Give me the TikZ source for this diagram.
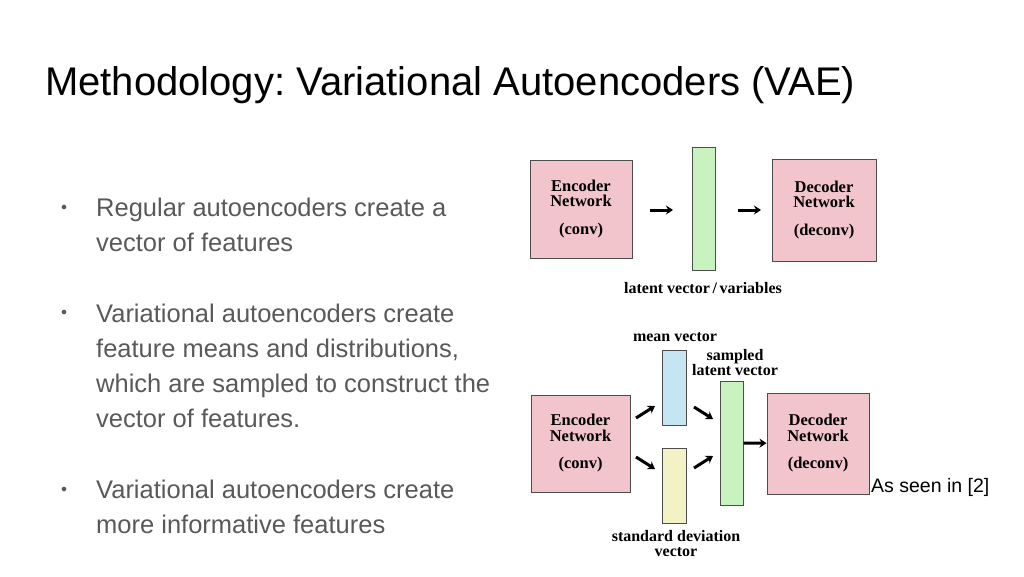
\documentclass[tikz,border=0pt]{standalone}
\usepackage{fontspec}
\setmainfont{Liberation Sans}
\newfontfamily\figfont{Liberation Serif}
\usetikzlibrary{arrows.meta}
\definecolor{netpink}{HTML}{F2C4CB}
\definecolor{latgreen}{HTML}{C8F2BE}
\definecolor{meanblue}{HTML}{C4E6F2}
\definecolor{sdyellow}{HTML}{F2F2C4}
\definecolor{bullgrey}{HTML}{595959}
\tikzset{
  net/.style={draw=black!70, fill=netpink, line width=1pt, inner sep=0pt, align=center, font=\figfont\bfseries\fontsize{16.5}{15.5}\selectfont},
  bar/.style={draw=black!70, line width=1pt, inner sep=0pt},
  figcap/.style={inner sep=0pt, align=center, font=\figfont\bfseries\fontsize{16}{15}\selectfont},
  flow/.style={-{Stealth[length=7pt,width=9pt]}, line width=3pt},
  bullet/.style={anchor=west, inner sep=0pt, text=bullgrey, font=\fontsize{25.5}{35}\selectfont, align=left},
  dot/.style={text=bullgrey, inner sep=0pt, font=\fontsize{13}{13}\selectfont}
}
\begin{document}
\frenchspacing
\begin{tikzpicture}[x=1pt, y=-1pt]
  \useasboundingbox (0,0) rectangle (1024,576);
  % title
  \node (title) [anchor=west, inner sep=0pt, font=\fontsize{40}{44}\selectfont] at (45,85) {Methodology: Variational Autoencoders (VAE)};

  % bullet points
  \node (d1) [dot] at (64,208) {$\bullet$};
  \node (t1) [bullet] at (96,225) {Regular autoencoders create a\\vector of features};
  \node (d2) [dot] at (64,313) {$\bullet$};
  \node (t2) [bullet] at (96,366) {Variational autoencoders create\\feature means and distributions,\\which are sampled to construct the\\vector of features.};
  \node (d3) [dot] at (64,490) {$\bullet$};
  \node (t3) [bullet] at (96,507) {Variational autoencoders create\\more informative features};

  % plain autoencoder
  \node (enc) [net, minimum width=102pt, minimum height=98pt] at (581,209) {Encoder\\Network\\[12pt](conv)};
  \node (lat) [bar, fill=latgreen, minimum width=23pt, minimum height=123pt] at (703.5,208.5) {};
  \node (dec) [net, minimum width=104pt, minimum height=102pt] at (824,210) {Decoder\\Network\\[12pt](deconv)};
  \node (latcap) [figcap] at (703,288) {latent vector\,/\,variables};
  \coordinate (a1) at (650,210);
  \coordinate (a2) at (673,210);
  \coordinate (a3) at (738,210);
  \coordinate (a4) at (761,210);
  \draw[flow] (a1) -- (a2);
  \draw[flow] (a3) -- (a4);

  % variational autoencoder
  \node (venc) [net, minimum width=99pt, minimum height=97pt] at (580.5,443.5) {Encoder\\Network\\[12pt](conv)};
  \node (mean) [bar, fill=meanblue, minimum width=24pt, minimum height=75pt] at (674,387.5) {};
  \node (sd) [bar, fill=sdyellow, minimum width=24pt, minimum height=75pt] at (674,485.5) {};
  \node (samp) [bar, fill=latgreen, minimum width=23pt, minimum height=124pt] at (731.5,443) {};
  \node (vdec) [net, minimum width=102pt, minimum height=101pt] at (818,443.5) {Decoder\\Network\\[12pt](deconv)};
  \node (meancap) [figcap] at (675,337) {mean vector};
  \node (sampcap) [figcap] at (735,363) {sampled\\latent vector};
  \node (sdcap) [figcap] at (676,544) {standard deviation\\vector};
  \coordinate (b1) at (636,418);
  \coordinate (b2) at (655,406);
  \coordinate (b3) at (636,457);
  \coordinate (b4) at (655,469);
  \coordinate (c1) at (694,407);
  \coordinate (c2) at (713,419);
  \coordinate (c3) at (694,468);
  \coordinate (c4) at (713,456);
  \draw[flow] (b1) -- (b2);
  \draw[flow] (b3) -- (b4);
  \draw[flow] (c1) -- (c2);
  \draw[flow] (c3) -- (c4);
  \draw[flow] (samp) -- (vdec);

  \node (src) [anchor=west, inner sep=0pt, font=\fontsize{19.5}{19.5}\selectfont] at (871,487) {As seen in [2]};
\end{tikzpicture}
\end{document}
